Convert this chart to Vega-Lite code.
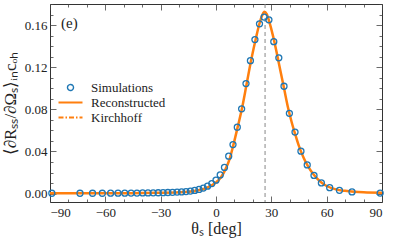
{
  "$schema": "https://vega.github.io/schema/vega-lite/v6.json",
  "width": 332,
  "height": 198,
  "autosize": {"type": "none"},
  "padding": {"left": 50, "top": 4, "right": 13, "bottom": 40},
  "config": {
    "font": "Liberation Serif",
    "view": {"stroke": "#333333", "strokeWidth": 1},
    "axis": {
      "grid": false,
      "domain": false,
      "labelFont": "Liberation Serif",
      "labelFontSize": 13,
      "labelColor": "#222222",
      "titleFont": "Liberation Serif",
      "titleFontSize": 16,
      "titleFontWeight": "normal",
      "titleColor": "#222222",
      "tickColor": "#444444",
      "tickWidth": 0.8
    }
  },
  "datasets": {
    "sim": [
      {"theta": -89, "val": 0.0003, "series": "Simulations"},
      {"theta": -73.74, "val": 0.0003, "series": "Simulations"},
      {"theta": -66.93, "val": 0.0003, "series": "Simulations"},
      {"theta": -61.64, "val": 0.0003, "series": "Simulations"},
      {"theta": -57.14, "val": 0.0004, "series": "Simulations"},
      {"theta": -53.13, "val": 0.0004, "series": "Simulations"},
      {"theta": -49.46, "val": 0.0004, "series": "Simulations"},
      {"theta": -46.05, "val": 0.0005, "series": "Simulations"},
      {"theta": -42.84, "val": 0.0005, "series": "Simulations"},
      {"theta": -39.79, "val": 0.0006, "series": "Simulations"},
      {"theta": -36.87, "val": 0.0006, "series": "Simulations"},
      {"theta": -34.06, "val": 0.0007, "series": "Simulations"},
      {"theta": -31.33, "val": 0.0008, "series": "Simulations"},
      {"theta": -28.69, "val": 0.0009, "series": "Simulations"},
      {"theta": -26.10, "val": 0.0010, "series": "Simulations"},
      {"theta": -23.58, "val": 0.0012, "series": "Simulations"},
      {"theta": -21.10, "val": 0.0014, "series": "Simulations"},
      {"theta": -18.66, "val": 0.0016, "series": "Simulations"},
      {"theta": -16.26, "val": 0.0019, "series": "Simulations"},
      {"theta": -13.89, "val": 0.0024, "series": "Simulations"},
      {"theta": -11.54, "val": 0.0030, "series": "Simulations"},
      {"theta": -9.21, "val": 0.0039, "series": "Simulations"},
      {"theta": -6.89, "val": 0.0052, "series": "Simulations"},
      {"theta": -4.59, "val": 0.0070, "series": "Simulations"},
      {"theta": -2.29, "val": 0.0095, "series": "Simulations"},
      {"theta": 0, "val": 0.0127, "series": "Simulations"},
      {"theta": 2.29, "val": 0.0177, "series": "Simulations"},
      {"theta": 4.59, "val": 0.0248, "series": "Simulations"},
      {"theta": 6.89, "val": 0.0355, "series": "Simulations"},
      {"theta": 9.21, "val": 0.0465, "series": "Simulations"},
      {"theta": 11.54, "val": 0.0630, "series": "Simulations"},
      {"theta": 13.89, "val": 0.0805, "series": "Simulations"},
      {"theta": 16.26, "val": 0.1044, "series": "Simulations"},
      {"theta": 18.66, "val": 0.1262, "series": "Simulations"},
      {"theta": 21.10, "val": 0.1462, "series": "Simulations"},
      {"theta": 23.58, "val": 0.1612, "series": "Simulations"},
      {"theta": 26.10, "val": 0.1676, "series": "Simulations"},
      {"theta": 28.69, "val": 0.1650, "series": "Simulations"},
      {"theta": 31.33, "val": 0.1442, "series": "Simulations"},
      {"theta": 34.06, "val": 0.1289, "series": "Simulations"},
      {"theta": 36.87, "val": 0.1019, "series": "Simulations"},
      {"theta": 39.79, "val": 0.0762, "series": "Simulations"},
      {"theta": 42.84, "val": 0.0584, "series": "Simulations"},
      {"theta": 46.05, "val": 0.0403, "series": "Simulations"},
      {"theta": 49.46, "val": 0.0272, "series": "Simulations"},
      {"theta": 53.13, "val": 0.0172, "series": "Simulations"},
      {"theta": 57.14, "val": 0.0101, "series": "Simulations"},
      {"theta": 61.64, "val": 0.0056, "series": "Simulations"},
      {"theta": 66.93, "val": 0.0031, "series": "Simulations"},
      {"theta": 73.74, "val": 0.0016, "series": "Simulations"},
      {"theta": 89, "val": 0.0005, "series": "Simulations"}
    ],
    "rec": [
      {"theta": -90, "val": 0.0002, "series": "Reconstructed"},
      {"theta": -60, "val": 0.0003, "series": "Reconstructed"},
      {"theta": -40, "val": 0.0005, "series": "Reconstructed"},
      {"theta": -30, "val": 0.0007, "series": "Reconstructed"},
      {"theta": -20, "val": 0.0012, "series": "Reconstructed"},
      {"theta": -15, "val": 0.0018, "series": "Reconstructed"},
      {"theta": -10, "val": 0.0030, "series": "Reconstructed"},
      {"theta": -5, "val": 0.0055, "series": "Reconstructed"},
      {"theta": 0, "val": 0.0105, "series": "Reconstructed"},
      {"theta": 2.5, "val": 0.0150, "series": "Reconstructed"},
      {"theta": 5, "val": 0.0225, "series": "Reconstructed"},
      {"theta": 7.5, "val": 0.0335, "series": "Reconstructed"},
      {"theta": 9.4, "val": 0.0460, "series": "Reconstructed"},
      {"theta": 12, "val": 0.0650, "series": "Reconstructed"},
      {"theta": 14.1, "val": 0.0810, "series": "Reconstructed"},
      {"theta": 16.5, "val": 0.1030, "series": "Reconstructed"},
      {"theta": 19.1, "val": 0.1270, "series": "Reconstructed"},
      {"theta": 21.7, "val": 0.1480, "series": "Reconstructed"},
      {"theta": 23.5, "val": 0.1610, "series": "Reconstructed"},
      {"theta": 25, "val": 0.1690, "series": "Reconstructed"},
      {"theta": 26.2, "val": 0.1727, "series": "Reconstructed"},
      {"theta": 27.5, "val": 0.1705, "series": "Reconstructed"},
      {"theta": 29, "val": 0.1625, "series": "Reconstructed"},
      {"theta": 31, "val": 0.1490, "series": "Reconstructed"},
      {"theta": 33, "val": 0.1330, "series": "Reconstructed"},
      {"theta": 35, "val": 0.1160, "series": "Reconstructed"},
      {"theta": 37, "val": 0.0990, "series": "Reconstructed"},
      {"theta": 39, "val": 0.0820, "series": "Reconstructed"},
      {"theta": 41, "val": 0.0680, "series": "Reconstructed"},
      {"theta": 43, "val": 0.0560, "series": "Reconstructed"},
      {"theta": 45, "val": 0.0450, "series": "Reconstructed"},
      {"theta": 47.5, "val": 0.0340, "series": "Reconstructed"},
      {"theta": 50, "val": 0.0255, "series": "Reconstructed"},
      {"theta": 52.5, "val": 0.0190, "series": "Reconstructed"},
      {"theta": 55, "val": 0.0140, "series": "Reconstructed"},
      {"theta": 57.5, "val": 0.0100, "series": "Reconstructed"},
      {"theta": 60, "val": 0.0072, "series": "Reconstructed"},
      {"theta": 65, "val": 0.0040, "series": "Reconstructed"},
      {"theta": 70, "val": 0.0026, "series": "Reconstructed"},
      {"theta": 75, "val": 0.0018, "series": "Reconstructed"},
      {"theta": 80, "val": 0.0013, "series": "Reconstructed"},
      {"theta": 90, "val": 0.0009, "series": "Reconstructed"}
    ],
    "kirch": [{"theta": 26.6}],
    "panel": [{"label": "(e)"}]
  },
  "layer": [
    {
      "data": {"name": "kirch"},
      "mark": {"type": "rule", "color": "#888888", "strokeDash": [4, 3], "strokeWidth": 1},
      "encoding": {
        "x": {
          "field": "theta", "type": "quantitative",
          "scale": {"domain": [-90, 90], "nice": false, "zero": false},
          "axis": {
            "orient": "top", "labels": false, "title": null,
            "values": [-90, -80, -70, -60, -50, -40, -30, -20, -10, 0, 10, 20, 30, 40, 50, 60, 70, 80, 90],
            "tickSize": {"condition": {"test": "datum.value % 30 === 0", "value": -6}, "value": -3}
          }
        }
      }
    },
    {
      "data": {"name": "rec"},
      "mark": {"type": "line", "strokeWidth": 2.5, "interpolate": "monotone"},
      "encoding": {
        "x": {
          "field": "theta", "type": "quantitative",
          "axis": {
            "orient": "bottom", "title": "θₛ [deg]", "titlePadding": 1,
            "values": [-90, -80, -70, -60, -50, -40, -30, -20, -10, 0, 10, 20, 30, 40, 50, 60, 70, 80, 90],
            "labelExpr": "datum.value % 30 === 0 ? format(datum.value, 'd') : ''",
            "tickSize": {"condition": {"test": "datum.value % 30 === 0", "value": -6}, "value": -3},
            "labelPadding": 10
          }
        },
        "y": {
          "field": "val", "type": "quantitative",
          "scale": {"domain": [-0.008, 0.18], "nice": false, "zero": false},
          "axis": {
            "orient": "left", "title": "⟨∂Rₛₛ/∂Ωₛ⟩ᵢₙcₒₕ", "titlePadding": 5, "titleFontSize": 17,
            "values": [0, 0.01, 0.02, 0.03, 0.04, 0.05, 0.06, 0.07, 0.08, 0.09, 0.1, 0.11, 0.12, 0.13, 0.14, 0.15, 0.16, 0.17, 0.18],
            "labelExpr": "round(datum.value * 100) % 4 === 0 ? format(datum.value, '.2f') : ''",
            "tickSize": {"condition": {"test": "round(datum.value * 100) % 4 === 0", "value": -6}, "value": -3},
            "labelPadding": 9
          }
        },
        "color": {
          "field": "series", "type": "nominal",
          "scale": {"domain": ["Simulations", "Reconstructed", "Kirchhoff"], "range": ["#1f77b4", "#ff7f0e", "#ff7f0e"]},
          "legend": {
            "orient": "none", "legendX": 14, "legendY": 77, "title": null, "padding": 0,
            "labelFont": "Liberation Serif", "labelFontSize": 13, "labelColor": "#222222",
            "symbolSize": 36, "labelOffset": 14, "rowPadding": 1,
            "encode": {
              "symbols": {
                "update": {
                  "shape": {"signal": "datum.value === 'Simulations' ? 'circle' : 'M-4,0H4'"},
                  "strokeWidth": {"signal": "datum.value === 'Simulations' ? 1.4 : 2.2"},
                  "strokeDash": {"signal": "datum.value === 'Kirchhoff' ? [5, 2, 1.5, 2] : [1, 0]"},
                  "fill": {"value": "transparent"},
                  "opacity": {"value": 1}
                }
              }
            }
          }
        }
      }
    },
    {
      "data": {"name": "sim"},
      "mark": {"type": "point", "filled": false, "size": 36, "strokeWidth": 1.3, "opacity": 1, "fill": "transparent"},
      "encoding": {
        "x": {"field": "theta", "type": "quantitative", "axis": null},
        "y": {
          "field": "val", "type": "quantitative",
          "axis": {
            "orient": "right", "labels": false, "title": null,
            "values": [0, 0.01, 0.02, 0.03, 0.04, 0.05, 0.06, 0.07, 0.08, 0.09, 0.1, 0.11, 0.12, 0.13, 0.14, 0.15, 0.16, 0.17, 0.18],
            "tickSize": {"condition": {"test": "round(datum.value * 100) % 4 === 0", "value": -6}, "value": -3}
          }
        },
        "color": {"field": "series", "type": "nominal"}
      }
    },
    {
      "data": {"name": "panel"},
      "mark": {"type": "text", "align": "left", "baseline": "middle", "fontSize": 15, "font": "Liberation Serif", "color": "#222222"},
      "encoding": {
        "x": {"datum": -84, "axis": null},
        "y": {"datum": 0.162, "axis": null},
        "text": {"field": "label"}
      }
    }
  ]
}
